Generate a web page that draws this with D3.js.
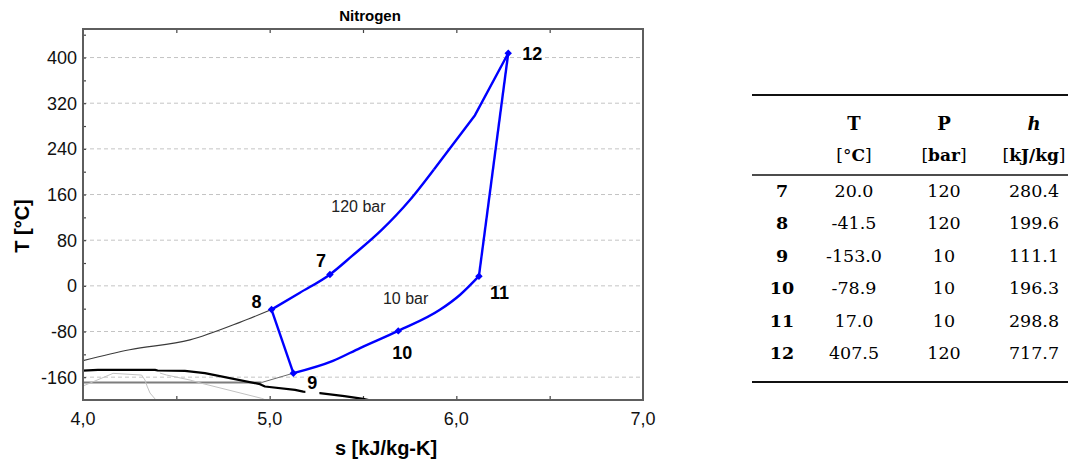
<!DOCTYPE html>
<html>
<head>
<meta charset="utf-8">
<script src="https://cdn.jsdelivr.net/npm/d3@7"></script>
<style>
  html, body { margin: 0; padding: 0; background: #fff; }
  svg { display: block; }
</style>
</head>
<body>
<svg id="chart" width="1071" height="462"></svg>
<script>
// ---- Axis ticks ----
const sTicks = [4, 5, 6, 7];
const sTickLabels = ["4,0", "5,0", "6,0", "7,0"];
const tTicks = [-160, -80, 0, 80, 160, 240, 320, 400];
const tTickLabels = ["-160", "-80", "0", "80", "160", "240", "320", "400"];

// ---- Cycle state points ----
const stateIds = ["7", "8", "9", "10", "11", "12"];
const stateS = [5.323, 5.010, 5.127, 5.689, 6.121, 6.278];
const stateT = [20.0, -41.5, -153.0, -78.9, 17.0, 407.5];
const stateP = [120, 120, 10, 10, 10, 120];
const stateH = [280.4, 199.6, 111.1, 196.3, 298.8, 717.7];

// ---- 120 bar isobar: smooth part from state 8 to ~200 °C ----
const hpS = [5.010, 5.162, 5.323, 5.440, 5.600, 5.750, 5.880];
const hpT = [-41.5, -12, 20.0, 52, 98, 150, 204];
// ---- 120 bar isobar: upper part up to state 12 ----
const hpHotS = [5.880, 6.100, 6.278];
const hpHotT = [204, 299, 407.5];

// ---- 10 bar isobar, from state 9 up to state 11 ----
const lpS = [5.127, 5.339, 5.484, 5.689, 5.912, 6.019, 6.121];
const lpT = [-153.0, -131.5, -109, -78.9, -42, -16, 17.0];

// ---- 120 bar isobar in the compressed-liquid side ----
const hpLiqS = [4.0, 4.25, 4.573, 4.84, 5.010];
const hpLiqT = [-131, -112, -94.7, -64, -41.5];

// ---- 10 bar: two-phase plateau, then vapor up to state 9 ----
const lpSatS = [4.0, 4.957];
const lpSatT = [-169.3, -169.3];
const lpVapS = [4.957, 5.127];
const lpVapT = [-169.3, -153.0];

// ---- Saturation line ----
const satS = [4.0, 4.08, 4.386, 4.40, 4.546, 4.653, 4.948, 4.975, 5.136, 5.18, 5.269, 5.40, 5.501, 5.53];
const satT = [-148.5, -147.2, -147.2, -148.3, -148.9, -153, -172.2, -176.4, -182.2, -185.2, -188, -193.3, -197.9, -200];

// ---- Faint reference lines inside the dome ----
const faintAS = [4.0, 4.161, 4.314, 4.332, 4.343, 4.359, 4.391];
const faintAT = [-175.5, -153.3, -156.3, -165, -175.5, -187.8, -200];
const faintBS = [4.412, 4.448, 4.573, 4.636, 4.957, 4.98];
const faintBT = [-152.8, -156.3, -165, -170.8, -197.1, -200];

// ---- Labels ----
const isobarLabels = ["120 bar", "10 bar"];
const isobarLabelS = [5.33, 5.607];
const isobarLabelT = [129, -32];

const zip = (a, b) => a.map((v, i) => [v, b[i]]);

const svg = d3.select("#chart");
const FONT = "'Liberation Sans', Arial, sans-serif";
const SERIF = "'DejaVu Serif', serif";

const plot = { left: 83, right: 643, top: 29, bottom: 400 };
const x = d3.scaleLinear().domain([4, 7]).range([plot.left, plot.right]);
const y = d3.scaleLinear().domain([-200, 450]).range([plot.bottom, plot.top]);

svg.append("clipPath").attr("id", "plotClip")
  .append("rect")
  .attr("x", plot.left).attr("y", plot.top)
  .attr("width", plot.right - plot.left).attr("height", plot.bottom - plot.top);

// Horizontal dashed grid
svg.append("g").selectAll("line").data(tTicks).join("line")
  .attr("x1", plot.left).attr("x2", plot.right)
  .attr("y1", d => y(d)).attr("y2", d => y(d))
  .attr("stroke", "#c4c4c4").attr("stroke-width", 1)
  .attr("stroke-dasharray", "4,3");

// Inward tick marks on the frame
const axL = d3.axisRight(y).tickValues(d3.range(-160, 441, 40)).tickSize(3).tickFormat("");
const axT = d3.axisBottom(x).tickValues(d3.range(4.5, 7, 0.5)).tickSize(4).tickFormat("");
const axB = d3.axisTop(x).tickValues(d3.range(4.5, 7, 0.5)).tickSize(4).tickFormat("");
[[axL, `translate(${plot.left},0)`], [axT, `translate(0,${plot.top})`], [axB, `translate(0,${plot.bottom})`]]
  .forEach(([ax, tr]) => {
    const g = svg.append("g").attr("transform", tr).call(ax);
    g.select(".domain").remove();
    g.selectAll("line").attr("stroke", "#444").attr("stroke-width", 1.2);
  });

// Tick labels
svg.append("g").selectAll("text").data(tTicks).join("text")
  .attr("x", plot.left - 6).attr("y", d => y(d)).attr("dy", "0.36em")
  .attr("text-anchor", "end")
  .attr("font-family", FONT).attr("font-size", 18).attr("fill", "#111")
  .text((d, i) => tTickLabels[i]);
svg.append("g").selectAll("text").data(sTicks).join("text")
  .attr("x", d => x(d)).attr("y", 425)
  .attr("text-anchor", "middle")
  .attr("font-family", FONT).attr("font-size", 18).attr("fill", "#111")
  .text((d, i) => sTickLabels[i]);

// Axis titles and chart title
svg.append("text").attr("x", 386).attr("y", 455)
  .attr("text-anchor", "middle").attr("font-family", FONT)
  .attr("font-size", 20).attr("font-weight", "bold").attr("fill", "#000")
  .text("s [kJ/kg-K]");
svg.append("text").attr("transform", "translate(29,226) rotate(-90)")
  .attr("text-anchor", "middle").attr("font-family", FONT)
  .attr("font-size", 20).attr("font-weight", "bold").attr("fill", "#000")
  .text("T [°C]");
svg.append("text").attr("x", 370).attr("y", 21)
  .attr("text-anchor", "middle").attr("font-family", FONT)
  .attr("font-size", 15).attr("font-weight", "bold").attr("fill", "#000")
  .text("Nitrogen");

// Curves
const line = d3.line().x(d => x(d[0])).y(d => y(d[1]));
const smooth = d3.line().x(d => x(d[0])).y(d => y(d[1])).curve(d3.curveMonotoneX);
const curves = svg.append("g").attr("clip-path", "url(#plotClip)");
const drawCurve = (pts, color, width, gen = line) => curves.append("path")
  .attr("d", gen(pts)).attr("fill", "none")
  .attr("stroke", color).attr("stroke-width", width)
  .attr("stroke-linejoin", "round");

drawCurve(zip(lpSatS, lpSatT), "#7d7d7d", 2.2);
drawCurve(zip(faintAS, faintAT), "#c2c2c2", 1);
drawCurve(zip(faintBS, faintBT), "#c2c2c2", 1);
drawCurve(zip(lpVapS, lpVapT), "#6a6a6a", 1);
drawCurve(zip(hpLiqS, hpLiqT), "#3a3a3a", 1.1, smooth);
drawCurve(zip(satS, satT), "#000", 2.2);

// Cycle: 8 -> 9 expansion, 11 -> 12 compression, plus both isobars
const cyc = svg.append("g").attr("clip-path", "url(#plotClip)");
const idx = id => stateIds.indexOf(id);
const cycleSegments = [
  [zip(hpS, hpT), smooth],
  [zip(hpHotS, hpHotT), line],
  [zip(lpS, lpT), smooth],
  [[[stateS[idx("8")], stateT[idx("8")]], [stateS[idx("9")], stateT[idx("9")]]], line],
  [[[stateS[idx("11")], stateT[idx("11")]], [stateS[idx("12")], stateT[idx("12")]]], line]
];
cycleSegments.forEach(([pts, gen]) => cyc.append("path")
  .attr("d", gen(pts)).attr("fill", "none")
  .attr("stroke", "#0000ff").attr("stroke-width", 2.4)
  .attr("stroke-linejoin", "round"));

cyc.selectAll(".marker").data(stateIds).join("path")
  .attr("class", "marker")
  .attr("transform", (d, i) => `translate(${x(stateS[i])},${y(stateT[i])}) rotate(45)`)
  .attr("d", d3.symbol(d3.symbolSquare, 28))
  .attr("fill", "#0000ff");

// Isobar labels
svg.append("g").selectAll("text").data(isobarLabels).join("text")
  .attr("x", (d, i) => x(isobarLabelS[i])).attr("y", (d, i) => y(isobarLabelT[i]))
  .attr("font-family", FONT).attr("font-size", 16).attr("fill", "#222")
  .text(d => d);

// State labels (offsets in pixels from each marker)
const labelDx = [-14, -20, 14, -6, 11, 14];
const labelDy = [-7, -2, 16, 28, 23, 7];
const lab = svg.append("g");
stateIds.forEach((id, i) => {
  const t = lab.append("text")
    .attr("x", x(stateS[i]) + labelDx[i]).attr("y", y(stateT[i]) + labelDy[i])
    .attr("font-family", FONT).attr("font-size", 18).attr("font-weight", "bold")
    .attr("fill", "#000").text(id);
  if (id === "9") {
    const b = t.node().getBBox();
    lab.insert("rect", "text")
      .attr("x", b.x - 2).attr("y", b.y + 4).attr("width", b.width + 4).attr("height", b.height)
      .attr("fill", "#fff");
  }
});

// Frame
svg.append("rect")
  .attr("x", plot.left).attr("y", plot.top)
  .attr("width", plot.right - plot.left).attr("height", plot.bottom - plot.top)
  .attr("fill", "none").attr("stroke", "#5e5e5e").attr("stroke-width", 2);

// ---- State table ----
const tbl = svg.append("g").attr("font-family", SERIF).attr("fill", "#000");
const tblLeft = 752, tblRight = 1068;
const colX = [782, 854, 944, 1034];
const rules = [[95, 2.2], [175, 1.3], [382, 2.2]];
tbl.selectAll("line").data(rules).join("line")
  .attr("x1", tblLeft).attr("x2", tblRight)
  .attr("y1", d => d[0]).attr("y2", d => d[0])
  .attr("stroke", "#111").attr("stroke-width", d => d[1]);

const headTop = [
  { text: "T", italic: false },
  { text: "P", italic: false },
  { text: "h", italic: true }
];
headTop.forEach((h, i) => {
  tbl.append("text").attr("x", colX[i + 1]).attr("y", 130)
    .attr("text-anchor", "middle").attr("font-size", 18).attr("font-weight", "bold")
    .attr("font-style", h.italic ? "italic" : "normal").text(h.text);
});
const headUnits = ["°C", "bar", "kJ/kg"];
headUnits.forEach((u, i) => {
  const t = tbl.append("text").attr("x", colX[i + 1]).attr("y", 161)
    .attr("text-anchor", "middle").attr("font-size", 17);
  t.append("tspan").text(i === 0 ? "[°" : "[");
  t.append("tspan").attr("font-weight", "bold").text(i === 0 ? "C" : u);
  t.append("tspan").text("]");
});

stateIds.forEach((id, i) => {
  const yy = 197 + i * 32.4;
  const cells = [id, stateT[i].toFixed(1), String(stateP[i]), stateH[i].toFixed(1)];
  cells.forEach((c, j) => {
    tbl.append("text").attr("x", colX[j]).attr("y", yy)
      .attr("text-anchor", "middle").attr("font-size", 17.5)
      .attr("font-weight", j === 0 ? "bold" : "normal").text(c);
  });
});
</script>
</body>
</html>
